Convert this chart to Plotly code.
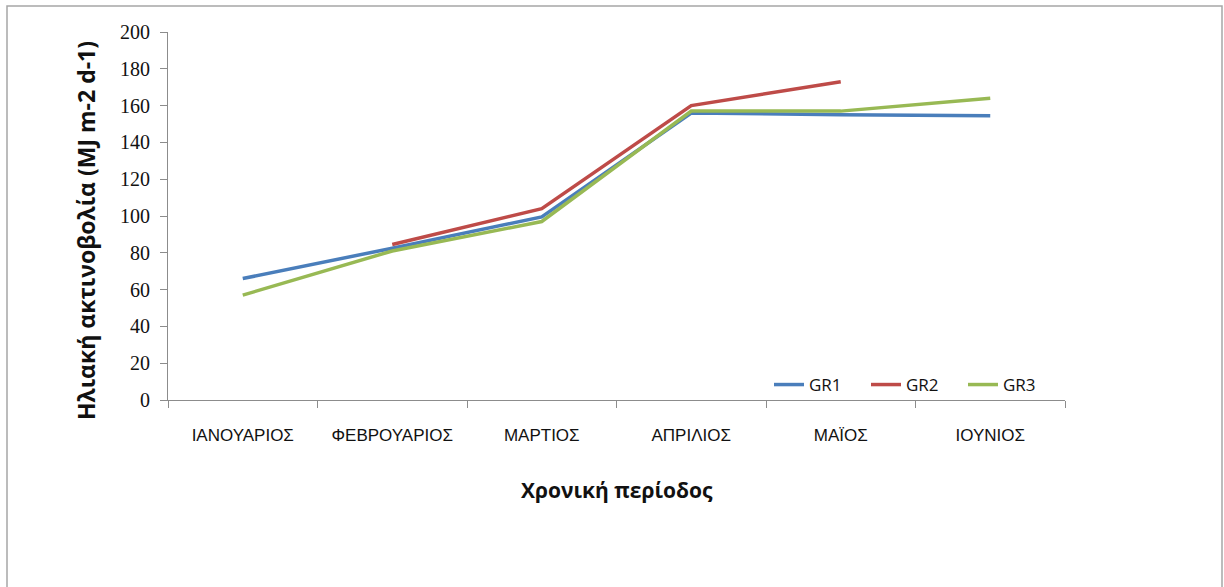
import plotly.graph_objects as go

months = ["ΙΑΝΟΥΑΡΙΟΣ", "ΦΕΒΡΟΥΑΡΙΟΣ", "ΜΑΡΤΙΟΣ", "ΑΠΡΙΛΙΟΣ", "ΜΑΪΟΣ", "ΙΟΥΝΙΟΣ"]
gr1 = [66, 82.5, 99.5, 156, 155, 154.5]
gr2 = [None, 84.5, 104, 160, 173, None]
gr3 = [57, 81, 97, 157, 157, 164]

series = [("GR1", gr1, "#4A7EBB"), ("GR2", gr2, "#BE4B48"), ("GR3", gr3, "#98B954")]

W, H = 1224, 587
L, R, T, B = 168, 1065, 32, 400  # plot area in pixels


def px_x(p):
    return (p - L) / (R - L)


def px_y(p):
    return (B - p) / (B - T)


fig = go.Figure()
for name, vals, color in series:
    fig.add_trace(go.Scatter(
        x=months, y=vals, name=name, mode="lines",
        line=dict(color=color, width=3.5), connectgaps=False,
    ))

axis_color = "#8C8C8C"
fig.update_layout(
    width=W, height=H,
    margin=dict(l=L, r=W - R, t=T, b=H - B),
    paper_bgcolor="white", plot_bgcolor="white",
    showlegend=True,
    legend=dict(
        orientation="h", x=px_x(1060), y=px_y(385),
        xanchor="right", yanchor="middle",
        font=dict(family="Open Sans", size=17, color="#111"),
        bgcolor="rgba(0,0,0,0)", entrywidth=52, tracegroupgap=0,
    ),
    xaxis=dict(
        type="category", range=[-0.5, len(months) - 0.5],
        showgrid=False, zeroline=False,
        showline=True, linecolor=axis_color, linewidth=1,
        ticks="outside", tickson="boundaries", ticklen=7, tickcolor=axis_color,
        tickfont=dict(family="Liberation Sans", size=17, color="#111"),
        ticklabelstandoff=20,
    ),
    yaxis=dict(
        range=[0, 200], dtick=20, showgrid=False, zeroline=False,
        showline=True, linecolor=axis_color, linewidth=1,
        ticks="outside", ticklen=7, tickcolor=axis_color,
        tickfont=dict(family="Liberation Serif", size=20, color="#111"),
        ticklabelstandoff=6,
    ),
    annotations=[
        dict(text="<b>Χρονική περίοδος</b>", xref="paper", yref="paper",
             x=px_x(617), y=px_y(490), showarrow=False,
             xanchor="center", yanchor="middle",
             font=dict(family="Open Sans", size=21, color="#111")),
        dict(text="<b>Ηλιακή ακτινοβολία (MJ m-2 d-1)</b>", xref="paper", yref="paper",
             x=px_x(86), y=px_y(231), showarrow=False, textangle=-90,
             xanchor="center", yanchor="middle",
             font=dict(family="Open Sans", size=23, color="#111")),
    ],
    shapes=[
        dict(type="rect", xref="paper", yref="paper",
             x0=px_x(7), x1=px_x(1222), y0=px_y(620), y1=px_y(6),
             line=dict(color="#A6A6A6", width=1.5), layer="below"),
    ],
)

fig.write_html("out.html")
